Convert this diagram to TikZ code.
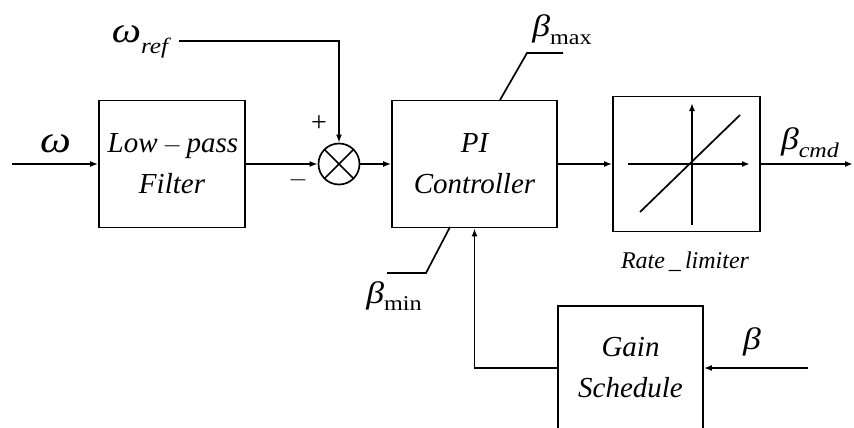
\documentclass[tikz,border=0pt]{standalone}
\usepackage{amsmath}
\usepackage{fontspec}
\setmainfont{Liberation Serif}
\usetikzlibrary{arrows.meta,calc}
\begin{document}
\begin{tikzpicture}[x={(1pt,0)},y={(0,-1pt)},
  line width=1.7pt,
  arr/.style={-{Latex[length=8pt,width=6pt]}},
  blk/.style={draw,rectangle,inner sep=0pt,align=center,
    font=\fontsize{29}{41}\selectfont\itshape},
  lbl/.style={inner sep=0pt,font=\fontsize{31}{31}\selectfont, xscale=1.15},
  sml/.style={inner sep=0pt,font=\fontsize{28}{28}\selectfont}]
\useasboundingbox (0,0) rectangle (854,428);
\clip (0,0) rectangle (854,428);
% blocks
\node[blk,minimum width=146pt,minimum height=127pt] (lpf) at (172,164) {\hspace*{2pt}Low\,$-$\,pass\\Filter};
\node[draw,circle,minimum size=41pt,inner sep=0pt] (sum) at (339,164) {};
\draw ($(sum.center)+(-14.5,-14.5)$) -- ($(sum.center)+(14.5,14.5)$);
\draw ($(sum.center)+(-14.5,14.5)$) -- ($(sum.center)+(14.5,-14.5)$);
\node[blk,minimum width=165pt,minimum height=127pt] (pi) at (474.5,164) {PI\\Controller};
\node[draw,rectangle,minimum width=147pt,minimum height=135pt,inner sep=0pt] (rl) at (686.5,164) {};
\node[blk,minimum width=145pt,minimum height=124pt] (gs) at (630.5,368) {Gain\\Schedule};
% rate limiter inside
\coordinate (ax0) at (692,225);
\coordinate (ax1) at (692,103);
\coordinate (ay0) at (628,164);
\coordinate (ay1) at (750,164);
\draw[arr] (ax0) -- (ax1);
\draw[arr] (ay0) -- (ay1);
\coordinate (d0) at (640,212);
\coordinate (d1) at (740,115);
\draw (d0) -- (d1);
% signals
\coordinate (win) at (12,164);
\draw[arr] (win) -- (lpf.west);
\draw[arr] (lpf.east) -- (sum.west);
\coordinate (wref) at (179,41);
\draw[arr] (wref) -| (sum.north);
\draw[arr] (sum.east) -- (pi.west);
\draw[arr] (pi.east) -- (rl.west);
\coordinate (out) at (853,164);
\draw[arr] (rl.east) -- (out);
\draw[arr] (gs.west) -| (pi.south);
\coordinate (bin) at (808,368);
\draw[arr] (bin) -- (gs.east);
% limits
\coordinate (bmax0) at (500,100);
\coordinate (bmax1) at (527,53);
\coordinate (bmax2) at (563,53);
\draw (bmax0) -- (bmax1) -- (bmax2);
\coordinate (bmin0) at (450,227);
\coordinate (bmin1) at (426,273);
\coordinate (bmin2) at (387,273);
\draw (bmin0) -- (bmin1) -- (bmin2);
% labels
\node[lbl,font=\fontsize{38}{38}\selectfont] (lw) at (56,144) {\itshape ω};
\node[lbl,font=\fontsize{36}{36}\selectfont] (lwref) at (140,42) {\itshape ω\raisebox{-0.3em}{\fontsize{22}{22}\selectfont ref}};
\node[sml] (lp) at (319,124) {+};
\node[sml] (lm) at (298,180) {$-$};
\node[lbl] (lbmax) at (562,30) {\itshape β\raisebox{-0.25em}{\upshape\fontsize{21}{21}\selectfont max}};
\node[lbl] (lbcmd) at (810,143) {\itshape β\raisebox{-0.25em}{\fontsize{21}{21}\selectfont cmd}};
\node[lbl] (lbmin) at (394,296) {\itshape β\raisebox{-0.25em}{\upshape\fontsize{21}{21}\selectfont min}};
\node[lbl] (lb) at (752,342) {\itshape β};
\node[sml,font=\fontsize{24}{24}\selectfont\itshape] (lrl) at (685,262) {Rate\,\_\,limiter};
\end{tikzpicture}
\end{document}
